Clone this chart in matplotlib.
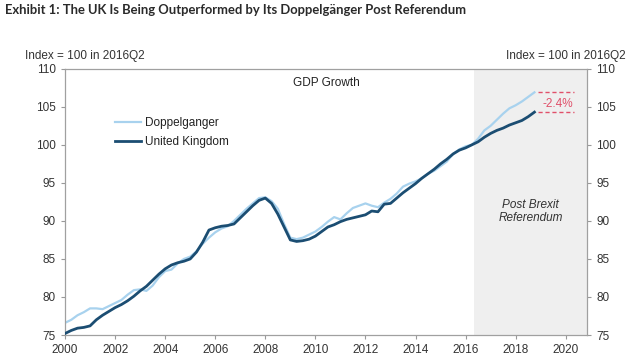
import matplotlib
matplotlib.use("Agg")
import matplotlib.pyplot as plt
import numpy as np

plt.rcParams['font.family'] = ['Liberation Sans', 'DejaVu Sans']

uk = [75.2, 75.6, 75.9, 76.0,
      76.2, 77.0, 77.6, 78.1,
      78.6, 79.0, 79.5, 80.1,
      80.8, 81.4, 82.2, 83.0,
      83.7, 84.2, 84.5, 84.7,
      85.0, 85.9, 87.2, 88.8,
      89.1, 89.3, 89.4, 89.6,
      90.4, 91.2, 92.0, 92.7,
      93.0, 92.3, 90.9, 89.2,
      87.5, 87.3, 87.4, 87.6,
      88.0, 88.6, 89.2, 89.5,
      89.9, 90.2, 90.4, 90.6,
      90.8, 91.3, 91.2, 92.2,
      92.3, 93.0, 93.7, 94.3,
      94.9, 95.6, 96.2, 96.8,
      97.5, 98.1, 98.8, 99.3,
      99.6, 100.0, 100.4, 101.0,
      101.5, 101.9, 102.2, 102.6,
      102.9, 103.2, 103.7, 104.3]
doppel = [76.6, 77.0, 77.6, 78.0,
          78.5, 78.5, 78.4, 78.8,
          79.2, 79.6, 80.3, 80.9,
          81.0, 80.8, 81.5, 82.6,
          83.4, 83.6, 84.4, 85.0,
          85.3, 86.0, 87.0, 87.8,
          88.5, 89.0, 89.3, 90.0,
          90.8, 91.6, 92.3, 93.0,
          93.1, 92.6, 91.6, 89.6,
          87.8, 87.6, 87.8, 88.2,
          88.6, 89.2, 89.9, 90.5,
          90.2, 91.0, 91.7, 92.0,
          92.3, 92.0, 91.8, 92.4,
          92.9, 93.6, 94.5, 94.9,
          95.2, 95.6, 96.2, 96.6,
          97.2, 97.8, 98.8, 99.4,
          99.8, 100.0, 100.8, 101.9,
          102.5, 103.3, 104.1, 104.8,
          105.2, 105.7, 106.3, 106.9]
start_year = 2000
years = start_year + np.arange(len(uk)) / 4.0
shade_start = 2016.33
gap_label = "-2.4%"
xticks = [2000, 2002, 2004, 2006, 2008, 2010, 2012, 2014, 2016, 2018, 2020]
yticks = [75, 80, 85, 90, 95, 100, 105, 110]

fig = plt.figure(figsize=(6.4, 3.6), dpi=100)
ax = fig.add_axes([0.1016, 0.0694, 0.8156, 0.7396])
xmax = 2020.85
ax.set_xlim(2000, xmax)
ax.set_ylim(75, 110)
ax.axvspan(shade_start, xmax, color='#efefef', lw=0, zorder=0)

light = '#a8d2ee'
dark = '#1b4d72'
ax.plot(years, doppel, color=light, lw=1.6, label='Doppelganger', zorder=2)
ax.plot(years, uk, color=dark, lw=2.0, label='United Kingdom', zorder=3)

red = '#e0506a'
ax.hlines([doppel[-1], uk[-1]], years[-1] + 0.15, years[-1] + 1.6, colors=red,
          linestyles=(0, (3, 2)), lw=1.0, zorder=3)
ax.text(years[-1] + 0.95, (doppel[-1] + uk[-1]) / 2 - 0.2, gap_label, color=red,
        fontsize=8.5, ha='center', va='center')

ax.set_xticks(xticks)
ax.set_yticks(yticks)
ax.tick_params(axis='both', labelsize=8.5, colors='#333333', length=3, width=0.8,
               direction='out', color='#999999')
ax.tick_params(axis='y', right=True, labelright=True)
for s in ax.spines.values():
    s.set_color('#a0a0a0')
    s.set_linewidth(0.9)

ax.text(0.5, 0.945, 'GDP Growth', transform=ax.transAxes, ha='center', va='center',
        fontsize=8.5, color='#222222')
ax.text((shade_start + xmax) / 2, 91.2, 'Post Brexit\nReferendum', ha='center', va='center',
        fontsize=8.5, style='italic', color='#333333', linespacing=1.15)

leg = ax.legend(loc='upper left', bbox_to_anchor=(0.075, 0.86), frameon=False,
                fontsize=8.5, handlelength=2.2, handletextpad=0.4, labelspacing=0.65)
for t in leg.get_texts():
    t.set_color('#222222')

fig.text(25 / 640, 1 - 55.7 / 360, 'Index = 100 in 2016Q2', fontsize=8.5, color='#333333',
         ha='left', va='center')
fig.text(626 / 640, 1 - 55.7 / 360, 'Index = 100 in 2016Q2', fontsize=8.5, color='#333333',
         ha='right', va='center')
fig.text(5 / 640, 1 - 10 / 360,
         'Exhibit 1: The UK Is Being Outperformed by Its Doppelg\u00e4nger Post Referendum',
         fontsize=9.4, fontweight='bold', color='#2a2a2a', ha='left', va='center',
         family=['Lato', 'Liberation Sans', 'DejaVu Sans'])

fig.savefig('out.png', dpi=100)
